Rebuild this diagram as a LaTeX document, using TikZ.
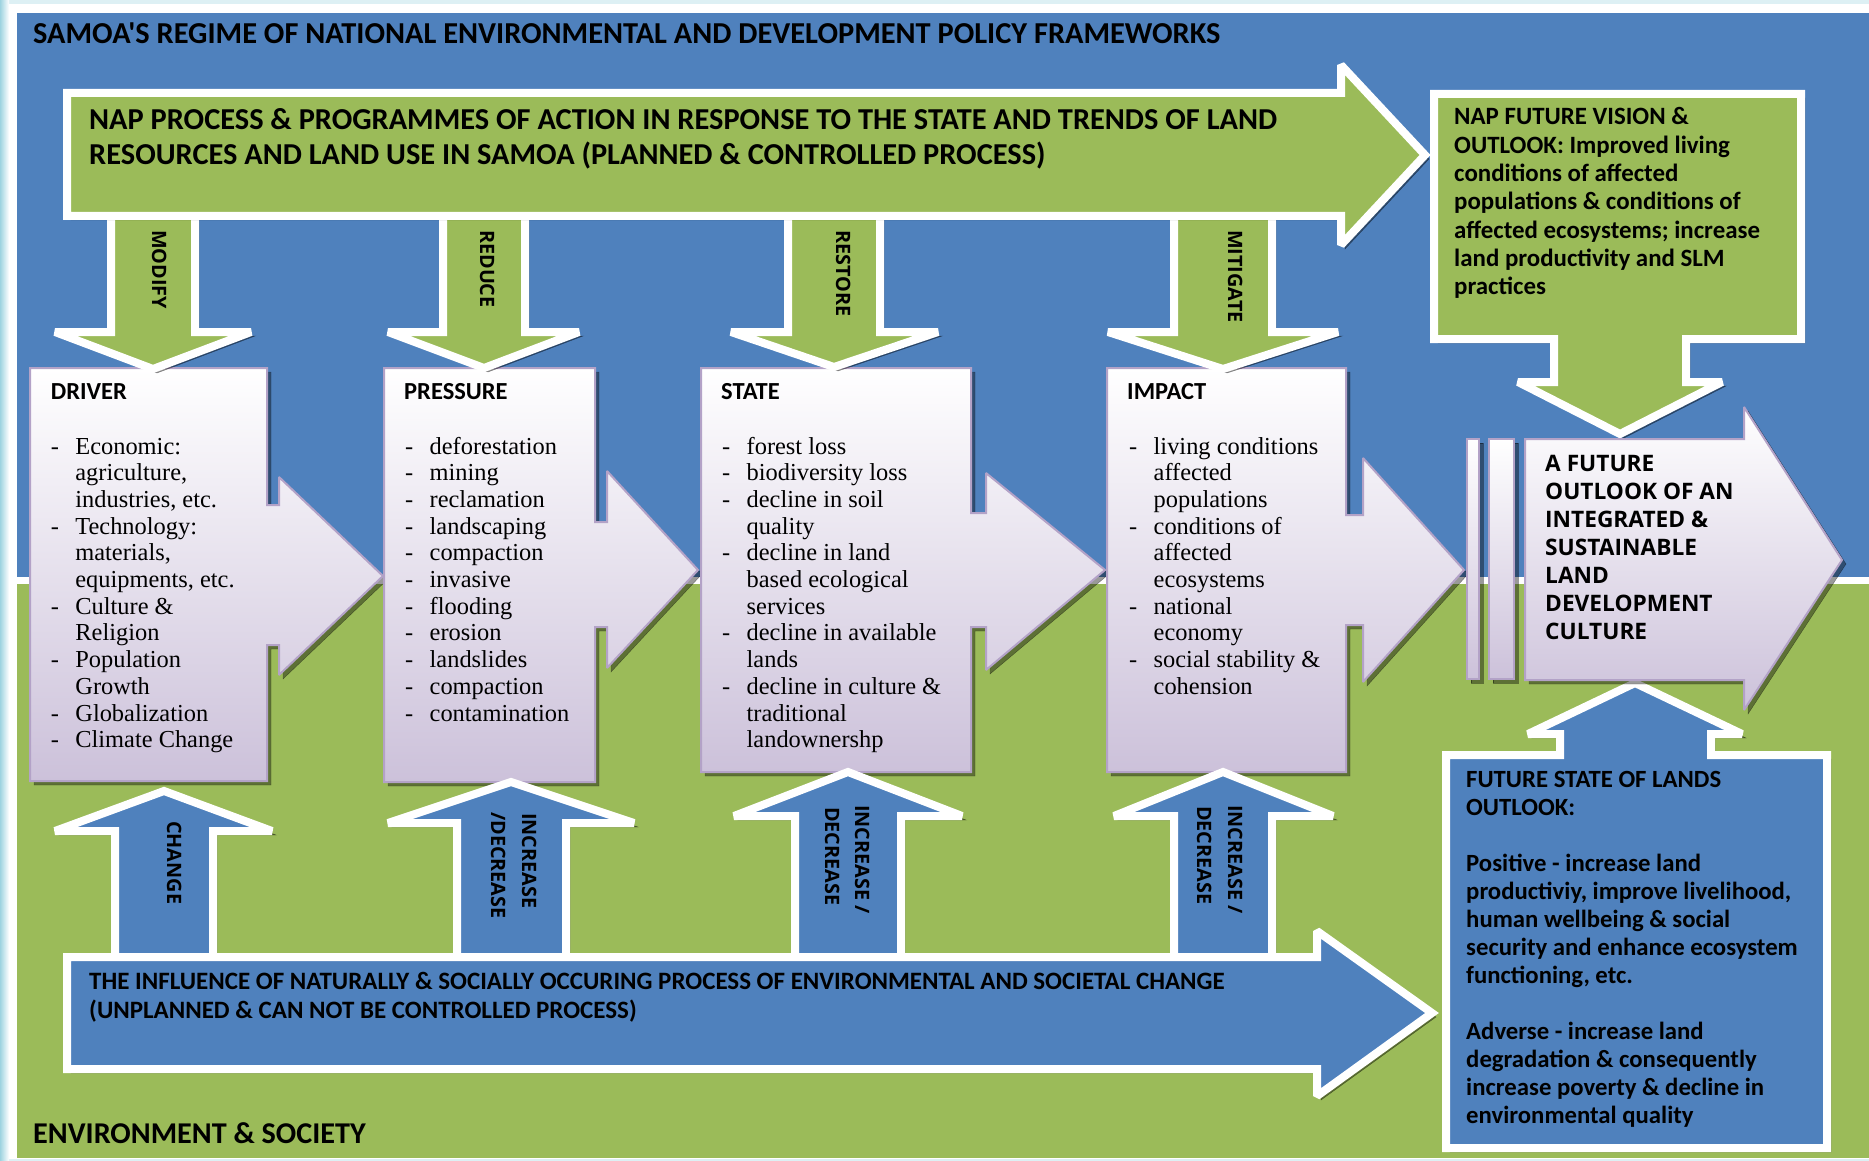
\documentclass[tikz,border=0pt]{standalone}
\usepackage{fontspec}
\setmainfont{Liberation Serif}
\newfontfamily\calfont{Carlito}
\newfontfamily\widefont{Open Sans}
\usepackage{xcolor}
\usepackage{tikz}
\usetikzlibrary{calc}
\usetikzlibrary{positioning}

\definecolor{regblue}{HTML}{4F81BD}
\definecolor{envgreen}{HTML}{9BBB59}
\definecolor{lavbottom}{HTML}{CCC1DA}
\definecolor{lavline}{HTML}{B3A2C7}
\definecolor{edgecyan}{HTML}{9ED3E0}

\newcommand{\dashitem}{\makebox[24.5pt][l]{-}}
\newcommand{\contitem}{\hspace*{24.5pt}}

\tikzset{
	castshadow/.style={preaction={draw=black,fill=black,opacity=0.4,transform canvas={xshift=4pt,yshift=-4pt}}},
	greenarrow/.style={castshadow,fill=envgreen,draw=white,line width=8pt,miter limit=2},
	bluearrow/.style={castshadow,fill=regblue,draw=white,line width=8pt,miter limit=2},
	lavshape/.style={castshadow,top color=white,bottom color=lavbottom,draw=lavline,line width=2pt,miter limit=2},
	caltext/.style={anchor=base west,inner sep=0pt,font=\calfont\bfseries},
	listtext/.style={anchor=base west,inner sep=0pt,font=\fontsize{24.4}{26.7}\selectfont},
	widetext/.style={anchor=base west,inner sep=0pt,font=\widefont\bfseries},
	rotlabel/.style={anchor=base west,inner sep=0pt,rotate=-90,font=\widefont\bfseries\fontsize{19.8}{22}\selectfont}
}

\begin{document}
\begin{tikzpicture}[x=1pt,y=-1pt]
	\useasboundingbox (0,0) rectangle (1869,1161);
	\fill[edgecyan!35] (0,0) rectangle (1869,1161);
	\shade[left color=edgecyan,right color=white] (0,0) rectangle (9,1161);
	\fill[white] (9,4) rectangle (1869,1159);
	\fill[regblue] (17,13) rectangle (1869,577);
	\fill[envgreen] (17,584) rectangle (1869,1158);

	\draw[lavshape] (30,368) -- (267,368) -- (267,505) -- (279,505) -- (279,477) -- (383,576) -- (279,675) -- (279,645) -- (267,645) -- (267,781) -- (30,781) -- cycle;
	\draw[lavshape] (384,368) -- (595,368) -- (595,522) -- (607,522) -- (607,471) -- (698,570) -- (607,668) -- (607,627) -- (595,627) -- (595,782) -- (384,782) -- cycle;
	\draw[lavshape] (701,368) -- (971,368) -- (971,513) -- (986,513) -- (986,473) -- (1105,570) -- (986,670) -- (986,627) -- (971,627) -- (971,772) -- (701,772) -- cycle;
	\draw[lavshape] (1107,368) -- (1346,368) -- (1346,515) -- (1363,515) -- (1363,458) -- (1464,570) -- (1363,682) -- (1363,625) -- (1346,625) -- (1346,772) -- (1107,772) -- cycle;

	\draw[greenarrow] (111,200) -- (195,200) -- (195,332) -- (251,332) -- (153,369) -- (55,332) -- (111,332) -- cycle;
	\draw[greenarrow] (443,200) -- (525,200) -- (525,332) -- (579,332) -- (484,368) -- (388,332) -- (443,332) -- cycle;
	\draw[greenarrow] (788,200) -- (880,200) -- (880,332) -- (938,332) -- (834,367) -- (731,332) -- (788,332) -- cycle;
	\draw[greenarrow] (1174,200) -- (1272,200) -- (1272,332) -- (1338,332) -- (1223,369) -- (1108,332) -- (1174,332) -- cycle;
	\draw[greenarrow] (67,93) -- (1341,93) -- (1341,65) -- (1425,155) -- (1341,245) -- (1341,216) -- (67,216) -- cycle;

	\draw[bluearrow] (115,990) -- (213,990) -- (213,831) -- (272,831) -- (164,791) -- (55,831) -- (115,831) -- cycle;
	\draw[bluearrow] (457,990) -- (566,990) -- (566,823) -- (634,823) -- (511,782) -- (388,823) -- (457,823) -- cycle;
	\draw[bluearrow] (795,990) -- (901,990) -- (901,816) -- (962,816) -- (848,772) -- (734,816) -- (795,816) -- cycle;
	\draw[bluearrow] (1174,990) -- (1272,990) -- (1272,816) -- (1333,816) -- (1223,772) -- (1114,816) -- (1174,816) -- cycle;
	\draw[bluearrow] (67,957) -- (1317,957) -- (1317,931) -- (1432,1013) -- (1317,1096) -- (1317,1069) -- (67,1069) -- cycle;

	\draw[greenarrow] (1434,94) -- (1801,94) -- (1801,339) -- (1686,339) -- (1686,382) -- (1722,382) -- (1620,434) -- (1518,382) -- (1554,382) -- (1554,339) -- (1434,339) -- cycle;
	\draw[bluearrow] (1446,755) -- (1560,755) -- (1560,734) -- (1528,734) -- (1635,683) -- (1742,734) -- (1711,734) -- (1711,755) -- (1827,755) -- (1827,1148) -- (1446,1148) -- cycle;

	\draw[lavshape] (1467,439) rectangle (1479,679);
	\draw[lavshape] (1489,439) rectangle (1514,679);
	\draw[lavshape] (1525,439) -- (1744,439) -- (1744,407) -- (1842,560) -- (1744,710) -- (1744,680) -- (1525,680) -- cycle;

	\node (title) [caltext] at (33,44) {\fontsize{30.4}{34}\selectfont SAMOA'S REGIME OF NATIONAL ENVIRONMENTAL AND DEVELOPMENT POLICY FRAMEWORKS};
	\node (naptext) [caltext] at (89,130) {\fontsize{30.4}{35}\selectfont\begin{tabular}[t]{@{}l@{}}NAP PROCESS \& PROGRAMMES OF ACTION IN RESPONSE TO THE STATE AND TRENDS OF LAND\\RESOURCES AND LAND USE IN SAMOA (PLANNED \& CONTROLLED PROCESS)\end{tabular}};

	\node (modify) [rotlabel] at (152,230) {MODIFY};
	\node (reduce) [rotlabel] at (480,230) {REDUCE};
	\node (restore) [rotlabel] at (836,230) {RESTORE};
	\node (mitigate) [rotlabel] at (1228,230) {MITIGATE};

	\node (drvhead) [caltext] at (50.7,399.3) {\fontsize{24.5}{27}\selectfont DRIVER};
	\node (prshead) [caltext] at (404,399.3) {\fontsize{24.5}{27}\selectfont PRESSURE};
	\node (stahead) [caltext] at (721,399.3) {\fontsize{24.5}{27}\selectfont STATE};
	\node (imphead) [caltext] at (1127,399.3) {\fontsize{24.5}{27}\selectfont IMPACT};

	\node (drvlist) [listtext] at (50.7,454) {\begin{tabular}[t]{@{}l@{}}
		\dashitem Economic:\\ \contitem agriculture,\\ \contitem industries, etc.\\
		\dashitem Technology:\\ \contitem materials,\\ \contitem equipments, etc.\\
		\dashitem Culture \&\\ \contitem Religion\\
		\dashitem Population\\ \contitem Growth\\
		\dashitem Globalization\\
		\dashitem Climate Change\end{tabular}};
	\node (prslist) [listtext] at (405,454) {\begin{tabular}[t]{@{}l@{}}
		\dashitem deforestation\\ \dashitem mining\\ \dashitem reclamation\\
		\dashitem landscaping\\ \dashitem compaction\\ \dashitem invasive\\
		\dashitem flooding\\ \dashitem erosion\\ \dashitem landslides\\
		\dashitem compaction\\ \dashitem contamination\end{tabular}};
	\node (stalist) [listtext] at (722,454) {\begin{tabular}[t]{@{}l@{}}
		\dashitem forest loss\\ \dashitem biodiversity loss\\
		\dashitem decline in soil\\ \contitem quality\\
		\dashitem decline in land\\ \contitem based ecological\\ \contitem services\\
		\dashitem decline in available\\ \contitem lands\\
		\dashitem decline in culture \&\\ \contitem traditional\\ \contitem landownershp\end{tabular}};
	\node (implist) [listtext] at (1129,454) {\begin{tabular}[t]{@{}l@{}}
		\dashitem living conditions\\ \contitem affected\\ \contitem populations\\
		\dashitem conditions of\\ \contitem affected\\ \contitem ecosystems\\
		\dashitem national\\ \contitem economy\\
		\dashitem social stability \&\\ \contitem cohension\end{tabular}};

	\node (vision) [caltext] at (1454,125) {\fontsize{24.9}{28.3}\selectfont\begin{tabular}[t]{@{}l@{}}NAP FUTURE VISION \&\\OUTLOOK: Improved living\\conditions of affected\\populations \& conditions of\\affected ecosystems; increase\\land productivity and SLM\\practices\end{tabular}};
	\node (outlook) [widetext] at (1545,471) {\fontsize{22.7}{28.1}\selectfont\begin{tabular}[t]{@{}l@{}}A FUTURE\\OUTLOOK OF AN\\INTEGRATED \&\\SUSTAINABLE\\LAND\\DEVELOPMENT\\CULTURE\end{tabular}};
	\node (lands) [caltext] at (1466,787) {\fontsize{24.75}{28}\selectfont\begin{tabular}[t]{@{}l@{}}FUTURE STATE OF LANDS\\OUTLOOK:\\ \\Positive - increase land\\productiviy, improve livelihood,\\human wellbeing \& social\\security and enhance ecosystem\\functioning, etc.\\ \\Adverse - increase land\\degradation \& consequently\\increase poverty \& decline in\\environmental quality\end{tabular}};

	\node (change) [rotlabel] at (167,821) {CHANGE};
	\node (incr1) [rotlabel] at (522,813) {INCREASE};
	\node (decr1) [rotlabel] at (491,812) {/DECREASE};
	\node (incr2) [rotlabel] at (855,805) {INCREASE /};
	\node (decr2) [rotlabel] at (825,807) {DECREASE};
	\node (incr3) [rotlabel] at (1228,805) {INCREASE /};
	\node (decr3) [rotlabel] at (1197,806) {DECREASE};

	\node (influence) [caltext] at (89,989) {\fontsize{25}{29}\selectfont\begin{tabular}[t]{@{}l@{}}THE INFLUENCE OF NATURALLY \& SOCIALLY OCCURING PROCESS OF ENVIRONMENTAL AND SOCIETAL CHANGE\\(UNPLANNED \& CAN NOT BE CONTROLLED PROCESS)\end{tabular}};
	\node (envsoc) [caltext] at (33,1143) {\fontsize{30.2}{33}\selectfont ENVIRONMENT \& SOCIETY};
\end{tikzpicture}
\end{document}
